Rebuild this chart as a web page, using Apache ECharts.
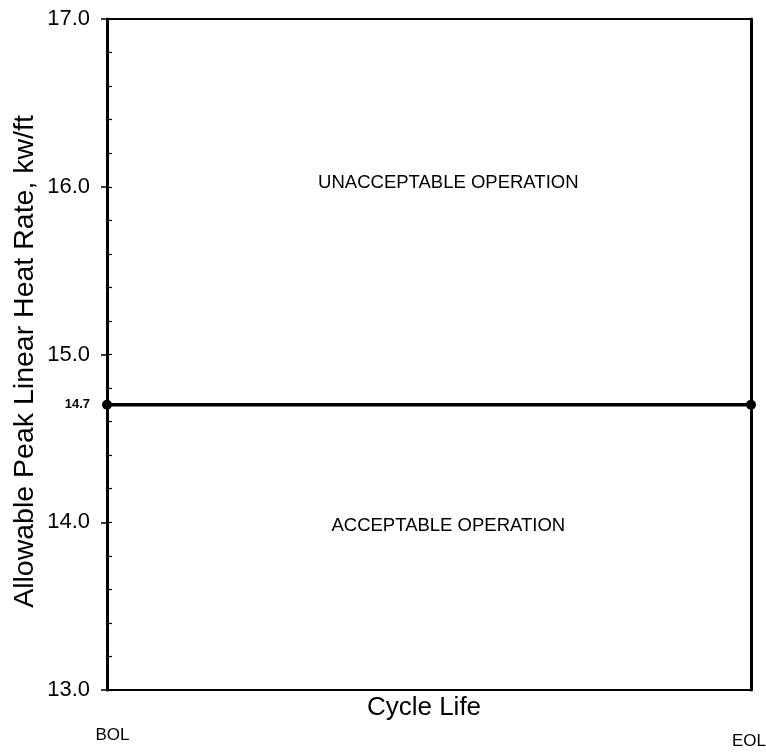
<!DOCTYPE html>
<html>
<head>
<meta charset="utf-8">
<script src="https://cdn.jsdelivr.net/npm/echarts@6/dist/echarts.min.js"></script>
<style>html,body{margin:0;padding:0;background:#fff}#c{width:766px;height:752px}</style>
</head>
<body>
<div id="c"></div>
<script>
// Data
var xEnds = [0, 1];                 // BOL .. EOL
var xEndLabels = ['BOL', 'EOL'];
var limitValue = [14.7, 14.7];      // allowable peak LHR, kw/ft
var yTicks = [13.0, 14.0, 15.0, 16.0, 17.0];
var regionLabels = ['UNACCEPTABLE OPERATION', 'ACCEPTABLE OPERATION'];
var regionPos = [[0.53, 16.02], [0.53, 13.98]];

var FONT = "'Liberation Sans', Arial, sans-serif";
var chart = echarts.init(document.getElementById('c'));
chart.setOption({
  animation: false,
  backgroundColor: '#fff',
  grid: {left: 107, right: 15, top: 19, bottom: 62, outerBoundsMode: 'none', containLabel: false},
  xAxis: [{
    type: 'value', min: xEnds[0], max: xEnds[1], interval: 1,
    axisLine: {show: true, onZero: false, lineStyle: {color: '#000', width: 2}},
    axisTick: {show: false},
    splitLine: {show: false},
    axisLabel: {
      color: '#000', fontFamily: FONT, fontSize: 17, margin: 37,
      formatter: function (v) { return v === xEnds[0] ? '{a|' + xEndLabels[0] + '}' : '{b|' + xEndLabels[1] + '}'; },
      rich: {
        a: {fontFamily: FONT, fontSize: 17, color: '#000', padding: [0, 0, 0, 11]},
        b: {fontFamily: FONT, fontSize: 17, color: '#000', padding: [6, 4, 0, 0]}
      }
    },
    name: 'Cycle Life', nameLocation: 'middle', nameGap: 5, nameMoveOverlap: false,
    nameTextStyle: {color: '#000', fontFamily: FONT, fontSize: 26, padding: [0, 10, 0, 0]}
  }, {
    type: 'value', position: 'top', min: 0, max: 1,
    axisLine: {show: true, onZero: false, lineStyle: {color: '#000', width: 2}},
    axisTick: {show: false}, axisLabel: {show: false}, splitLine: {show: false}
  }],
  yAxis: [{
    type: 'value', min: yTicks[0], max: yTicks[yTicks.length - 1], interval: 1,
    axisLine: {show: true, onZero: false, lineStyle: {color: '#000', width: 3}},
    axisTick: {show: true, inside: false, length: 6, lineStyle: {color: '#000', width: 1.5}},
    splitLine: {show: false},
    axisLabel: {color: '#000', fontFamily: FONT, fontSize: 22, margin: 17,
      formatter: function (v) { return v.toFixed(1); }},
    name: 'Allowable Peak Linear Heat Rate, kw/ft', nameLocation: 'middle', nameGap: 67, nameMoveOverlap: false,
    nameTextStyle: {color: '#000', fontFamily: FONT, fontSize: 28.5, padding: [0, 14, 0, 0]}
  }, {
    type: 'value', position: 'left', min: 13, max: 17, interval: 0.2,
    axisLine: {show: false},
    axisTick: {show: true, inside: true, length: 5, lineStyle: {color: '#000', width: 1.2}},
    axisLabel: {show: false}, splitLine: {show: false}
  }, {
    type: 'value', position: 'right', min: 13, max: 17,
    axisLine: {show: true, onZero: false, lineStyle: {color: '#000', width: 3}},
    axisTick: {show: false}, axisLabel: {show: false}, splitLine: {show: false}
  }],
  series: [{
    type: 'line',
    data: xEnds.map(function (x, i) { return [x, limitValue[i]]; }),
    lineStyle: {color: '#000', width: 3.5},
    itemStyle: {color: '#000'},
    symbol: 'circle', symbolSize: 10,
    clip: false,
    label: {
      show: true, position: 'left', distance: 12,
      color: '#000', fontFamily: FONT, fontSize: 13, fontWeight: 'bold',
      formatter: function (p) { return p.dataIndex === 0 ? p.value[1].toFixed(1) : ''; }
    },
    z: 5
  }, {
    type: 'scatter',
    data: regionPos.map(function (p, i) { return {value: p, name: regionLabels[i]}; }),
    symbolSize: 0,
    itemStyle: {opacity: 1, color: '#000'},
    label: {show: true, position: 'inside', color: '#000', opacity: 1, fontFamily: FONT, fontSize: 18.5,
      formatter: function (p) { return p.name; }},
    silent: true
  }]
});
</script>
</body>
</html>
